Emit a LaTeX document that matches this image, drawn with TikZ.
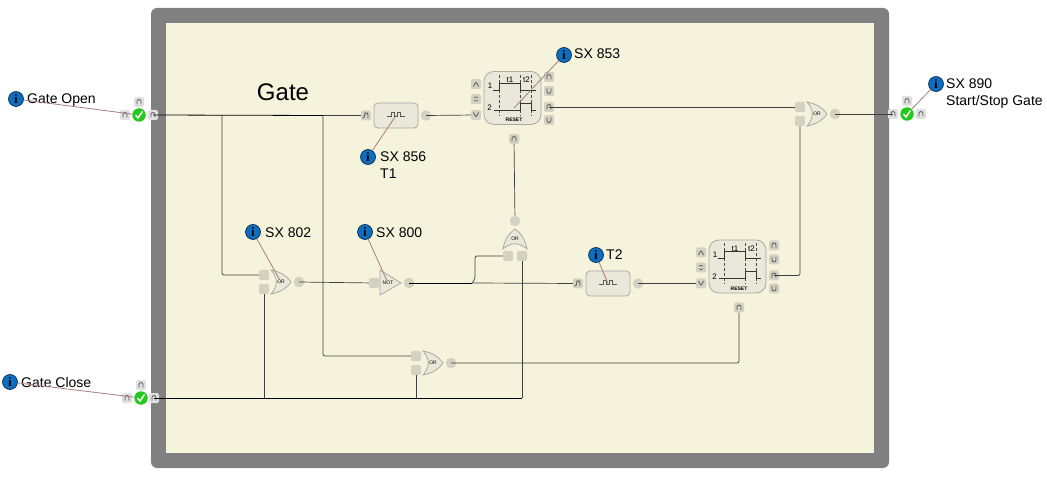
\documentclass[tikz,border=0pt]{standalone}
\usepackage{fontspec}
\setmainfont{Liberation Sans}
\newfontfamily\infofont{Liberation Serif}
\usepackage{xcolor}
\usetikzlibrary{calc}
\definecolor{framegray}{HTML}{808080}
\definecolor{panelcream}{HTML}{F5F3DC}
\definecolor{portgray}{HTML}{D2D1C2}
\definecolor{blockgray}{HTML}{E9E8DB}
\definecolor{edgegray}{HTML}{A9A99F}
\definecolor{leaderred}{HTML}{A87F78}
\definecolor{infoblue}{HTML}{0B6EC0}
\definecolor{checkgreen}{HTML}{26C81C}
\tikzset{
  wire/.style={draw=black!75,line width=0.7pt,rounded corners=2pt},
  buswire/.style={draw=black,line width=0.8pt},
  leader/.style={draw=leaderred,line width=0.8pt},
  tag/.style={anchor=west,inner sep=0pt,font=\fontsize{14}{17}\selectfont,align=left},
  infodot/.style={circle,draw=black!70!infoblue,line width=0.6pt,fill=infoblue,minimum size=15pt,inner sep=0pt,text=black,font=\infofont\fontsize{13}{13}\selectfont\bfseries},
  checkdot/.style={circle,fill=checkgreen,minimum size=13.5pt,inner sep=0pt,path picture={
    \draw[white,line width=1.4pt] ([shift={(-3.5,0)}]path picture bounding box.center) -- ++(2.5,3) -- ++(4.5,-6.5);}},
  portbox/.style={rectangle,rounded corners=2pt,fill=portgray,minimum size=10pt,inner sep=0pt},
  outdot/.style={circle,fill=portgray,minimum size=10.5pt,inner sep=0pt},
  glyph/.style={draw=black!65,line width=0.8pt},
  portN/.style={portbox,path picture={
    \draw[glyph] ([shift={(-2,2.5)}]path picture bounding box.center) -- ++(0,-5) -- ++(4,0) -- ++(0,5);}},
  portU/.style={portbox,path picture={
    \draw[glyph] ([shift={(-2,-2.5)}]path picture bounding box.center) -- ++(0,5) -- ++(4,0) -- ++(0,-5);}},
  portF/.style={portbox,path picture={
    \draw[glyph] ([shift={(-3.5,2.5)}]path picture bounding box.center) -- ++(2,0) -- ++(0,-5) -- ++(3.5,0) -- ++(0,5);}},
  portA/.style={portbox,path picture={
    \draw[glyph] ([shift={(-2.5,2.5)}]path picture bounding box.center) -- ++(2.5,-5) -- ++(2.5,5);}},
  portV/.style={portbox,path picture={
    \draw[glyph] ([shift={(-2.5,-2.5)}]path picture bounding box.center) -- ++(2.5,5) -- ++(2.5,-5);}},
  portUD/.style={portbox,path picture={
    \draw[glyph,line width=0.6pt] ([shift={(-2,-1)}]path picture bounding box.center) -- ++(2,-2) -- ++(2,2);
    \draw[glyph,line width=0.6pt] ([shift={(-2,1)}]path picture bounding box.center) -- ++(2,2) -- ++(2,-2);}},
  blockbox/.style={rectangle,draw=edgegray,line width=0.8pt,fill=blockgray,inner sep=0pt},
  gatebody/.style={draw=edgegray,line width=0.8pt,fill=blockgray},
  tiny/.style={inner sep=0pt,font=\fontsize{5}{5}\selectfont},
  small/.style={inner sep=0pt,font=\fontsize{8}{8}\selectfont},
  % OR gate, pointing right unless rotated
  pics/orgate/.style={code={
    \path[gatebody] (-10,-12) .. controls (0,-10) and (6,-6) .. (10,0)
      .. controls (6,6) and (0,10) .. (-10,12) .. controls (-3,4) and (-3,-4) .. (-10,-12) -- cycle;
    \node[tiny] (-mid) at (0,0) {OR};
    \node[portbox] (-a) at (-17,-7) {};
    \node[portbox] (-b) at (-17,7) {};
    \node[outdot] (-out) at (18,0) {};
  }},
  % pulse block
  pics/pulseblk/.style={code={
    \node[blockbox,rounded corners=4pt,minimum width=44pt,minimum height=25pt] (-box) at (0,0) {};
    \draw[glyph] (-9,1) -- (-5,1) -- (-5,-3) -- (-2,-3) -- (-2,1) -- (1,1) -- (1,-3) -- (4,-3) -- (4,1) -- (9,1);
    \node[portF] (-in) at (-30,0) {};
    \node[outdot] (-out) at (30,0) {};
  }},
  % timer block
  pics/timerblk/.style={code={
    \node[blockbox,rounded corners=10pt,minimum width=57pt,minimum height=53pt] (-box) at (0,0) {};
    \draw[black!70,densely dashed,line width=0.5pt] (-13,-23) -- (-13,18) (7.5,-23) -- (7.5,18) (19,-23) -- (19,18);
    \draw[black!80,line width=0.7pt] (-20,-8) -- (-13,-8) -- (-13,-15) -- (7.5,-15) -- (7.5,-8) -- (23.5,-8);
    \draw[black!80,line width=0.7pt] (-19,12) -- (7.5,12) -- (7.5,5) -- (19,5) -- (19,12) -- (23,12);
    \node[small] at (-22.5,-12) {1};
    \node[small] at (-23,10) {2};
    \node[small] at (-2.5,-18) {t1};
    \node[small] at (14,-18) {t2};
    \node[tiny,font=\fontsize{5}{5}\selectfont\bfseries] at (1.5,22) {RESET};
    \node[portA] (-up) at (-36.5,-14) {};
    \node[portUD] (-toggle) at (-36.5,1) {};
    \node[portV] (-in) at (-36.5,17) {};
    \node[portN] (-qa) at (36.5,-21) {};
    \node[portU] (-qb) at (36.5,-7) {};
    \node[portN] (-qc) at (36.5,9) {};
    \node[portU] (-qd) at (36.5,22) {};
    \node[portN] (-reset) at (1.5,41) {};
  }}
}

\begin{document}
\begin{tikzpicture}[x=1pt,y=-1pt]
  \useasboundingbox (0,0) rectangle (1047,486);

  % Frame
  \fill[framegray,rounded corners=6pt] (151,8) rectangle (889,468);
  \fill[panelcream] (166,23) rectangle (874,453);
  \node[inner sep=0pt,font=\fontsize{24}{24}\selectfont] (title) at (283,92) {Gate};

  % Signals on the frame
  \node[checkdot] (openCheck) at (139,115) {};
  \node[portN,fill=black!12] (openTop) at (139,102) {};
  \node[portN,fill=black!12] (openLeft) at (125,115) {};
  \node[portN,fill=black!12] (openOut) at (153,115) {};
  \node[checkdot] (closeCheck) at (141,398) {};
  \node[portN,fill=black!12] (closeTop) at (141,385) {};
  \node[portN,fill=black!12] (closeLeft) at (127,398) {};
  \node[portN,fill=black!12] (closeOut) at (154,398) {};
  \node[checkdot] (startCheck) at (907,114) {};
  \node[portN,fill=black!12] (startTop) at (907,101) {};
  \node[portN,fill=black!12] (startIn) at (893,114) {};
  \node[portN,fill=black!12] (startRight) at (921,114) {};

  % Blocks
  \pic (pulseA) at (396,115.5) {pulseblk};
  \pic (pulseB) at (608,283.5) {pulseblk};
  \pic (timerA) at (512.5,98) {timerblk};
  \pic (timerB) at (737.5,266.5) {timerblk};
  \pic (orStart) at (281,282) {orgate};
  \pic (orClose) at (433,363) {orgate};
  \pic (orOut) at (817,114) {orgate};
  \pic[rotate=90] (orReset) at (515,239) {orgate};

  % Not gate
  \path[gatebody] (380,270) -- (401,283) -- (380,295) -- cycle;
  \node[tiny] (notText) at (388,283) {NOT};
  \node[portbox] (notIn) at (374,283) {};
  \node[outdot] (notOut) at (409,283) {};

  % Wires
  \coordinate (branchA) at (222,115);
  \coordinate (branchB) at (323,115.5);
  \coordinate (branchC) at (264,398);
  \coordinate (branchD) at (522,398);
  \coordinate (branchE) at (472,283);
  \draw[buswire] (openOut.center) -- (branchB);
  \draw[wire] (branchB) -- (pulseA-in);
  \draw[wire] (branchA) |- (orStart-a);
  \draw[wire] (branchB) |- (orClose-a);
  \draw[wire] (pulseA-out.center) -- (timerA-in);
  \draw[wire] (timerA-qc.center) -- (orOut-a);
  \draw[wire] (timerA-reset) -- (orReset-out);
  \draw[wire] (orStart-out.center) -- (notIn);
  \draw[buswire] (notOut.center) -- (branchE);
  \draw[wire] (branchE) -- (pulseB-in);
  \draw[wire] (branchE) -- ++(3,-4) |- (orReset-a);
  \draw[wire] (pulseB-out.center) -- (timerB-in);
  \draw[wire] (timerB-qc.center) -| (orOut-b);
  \draw[buswire] (closeOut.center) -- (branchD);
  \draw[wire] (closeOut.center -| orClose-b) -- (orClose-b);
  \draw[wire] (branchC) -- (orStart-b);
  \draw[wire] (branchD) -- (orReset-b);
  \draw[wire] (orClose-out.center) -| (timerB-reset);
  \draw[wire] (orOut-out.center) -- (startIn.center);

  % Info marks
  \node[infodot] (infoOpen) at (16,99) {i};
  \node[tag] (tagOpen) at (27,100) {Gate Open};
  \node[infodot] (infoClose) at (10,382) {i};
  \node[tag] (tagClose) at (21,382) {Gate Close};
  \node[infodot] (infoStart) at (936,84) {i};
  \node[tag,anchor=north west] (tagStart) at (946,78.5) {SX 890\\Start/Stop Gate};
  \node[infodot] (infoPulseA) at (368,157) {i};
  \node[tag,anchor=north west] (tagPulseA) at (380,151.5) {SX 856\\T1};
  \node[infodot] (infoTimerA) at (564,55) {i};
  \node[tag] (tagTimerA) at (574,54) {SX 853};
  \node[infodot] (infoOrStart) at (253,232) {i};
  \node[tag] (tagOrStart) at (265,233) {SX 802};
  \node[infodot] (infoNot) at (365,232) {i};
  \node[tag] (tagNot) at (376,233) {SX 800};
  \node[infodot] (infoPulseB) at (596,255) {i};
  \node[tag] (tagPulseB) at (606,255) {T2};

  % Leaders
  \draw[leader] (infoOpen) -- (openCheck);
  \draw[leader] (infoClose) -- (closeCheck);
  \draw[leader] (infoStart) -- (startCheck);
  \draw[leader] (infoPulseA) -- (pulseA-box.center);
  \draw[leader] (infoTimerA) -- ($(timerA-box.center)+(1.5,10)$);
  \draw[leader] (infoOrStart) -- (orStart-mid);
  \draw[leader] (infoNot) -- (notText);
  \draw[leader] (infoPulseB) -- (pulseB-box.center);
\end{tikzpicture}
\end{document}
